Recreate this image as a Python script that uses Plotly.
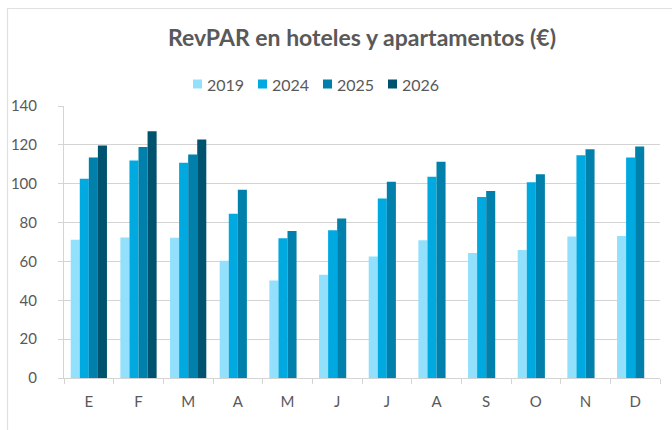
import plotly.graph_objects as go

# Months (Spanish initials)
months = ["E", "F", "M", "A", "M", "J", "J", "A", "S", "O", "N", "D"]
# Unique category keys so repeated initials stay separate
month_keys = [f"{m}_{i}" for i, m in enumerate(months)]

rev_2019 = [71.2, 72.3, 72.2, 60.4, 50.2, 53.2, 62.6, 70.9, 64.3, 65.9, 72.8, 73.1]
rev_2024 = [102.5, 112.0, 110.8, 84.6, 71.9, 76.0, 92.4, 103.6, 93.2, 100.8, 114.6, 113.5]
rev_2025 = [113.5, 118.9, 115.0, 96.9, 75.7, 82.1, 101.0, 111.3, 96.3, 104.9, 117.7, 119.2]
rev_2026 = [119.7, 127.0, 122.7, None, None, None, None, None, None, None, None, None]

series = [
    ("2019", rev_2019, "#92E0FB"),
    ("2024", rev_2024, "#00A9E0"),
    ("2025", rev_2025, "#0080AA"),
    ("2026", rev_2026, "#00536F"),
]

W, H = 672, 430
ML, MR, MT, MB = 64, 12, 106, 52
PW, PH = W - ML - MR, H - MT - MB

text_color = "#595959"
grid_color = "#D4D4D4"


def px_x(x):
    return (x - ML) / PW


def px_y(y):
    return (H - MB - y) / PH


fig = go.Figure()
for name, vals, color in series:
    fig.add_trace(go.Bar(
        x=month_keys, y=vals, name=name,
        marker=dict(color=color, line=dict(width=0)),
        showlegend=False,
    ))

# Compact legend row: small square swatch + year label
shapes = []
annotations = []
leg_start, leg_step, leg_y = 193, 65, 84
for i, (name, _, color) in enumerate(series):
    x0 = leg_start + i * leg_step
    shapes.append(dict(
        type="rect", xref="paper", yref="paper",
        x0=px_x(x0), x1=px_x(x0 + 9),
        y0=px_y(leg_y + 4.5), y1=px_y(leg_y - 4.5),
        line=dict(width=0), fillcolor=color,
    ))
    annotations.append(dict(
        text=name, xref="paper", yref="paper",
        x=px_x(x0 + 12), y=px_y(leg_y), xanchor="left", yanchor="middle",
        showarrow=False, font=dict(size=16, color=text_color),
    ))

# Chart frame
shapes.append(dict(
    type="rect", xref="paper", yref="paper",
    x0=px_x(7.5), x1=px_x(690), y0=px_y(445), y1=px_y(8.5),
    line=dict(color="#E0E0E0", width=1.2), fillcolor="rgba(0,0,0,0)",
    layer="below",
))

fig.update_layout(
    width=W, height=H,
    margin=dict(l=ML, r=MR, t=MT, b=MB, autoexpand=False),
    paper_bgcolor="white", plot_bgcolor="white",
    barmode="group", bargap=0.27, bargroupgap=0,
    font=dict(family="Lato, 'Open Sans', sans-serif", size=15, color=text_color),
    title=dict(
        text="<b>RevPAR en hoteles y apartamentos (€)</b>",
        x=362 / W, xanchor="center", y=1 - 38 / H, yanchor="middle",
        font=dict(family="Lato, sans-serif", size=23, color=text_color),
    ),
    showlegend=False,
    xaxis=dict(
        tickmode="array", tickvals=month_keys, ticktext=months,
        showline=True, linecolor=grid_color, linewidth=1,
        ticks="outside", tickson="boundaries", ticklen=5, tickcolor=grid_color,
        showgrid=False, tickfont=dict(size=15, color=text_color),
        ticklabelstandoff=10,
    ),
    yaxis=dict(
        range=[0, 140], dtick=20, tick0=0,
        showline=True, linecolor=grid_color, linewidth=1,
        ticks="outside", ticklen=5, tickcolor=grid_color,
        showgrid=True, gridcolor=grid_color, gridwidth=1,
        zeroline=False, tickfont=dict(size=15, color=text_color),
        ticklabelstandoff=18,
    ),
    shapes=shapes,
    annotations=annotations,
)

fig.write_html("out.html")
